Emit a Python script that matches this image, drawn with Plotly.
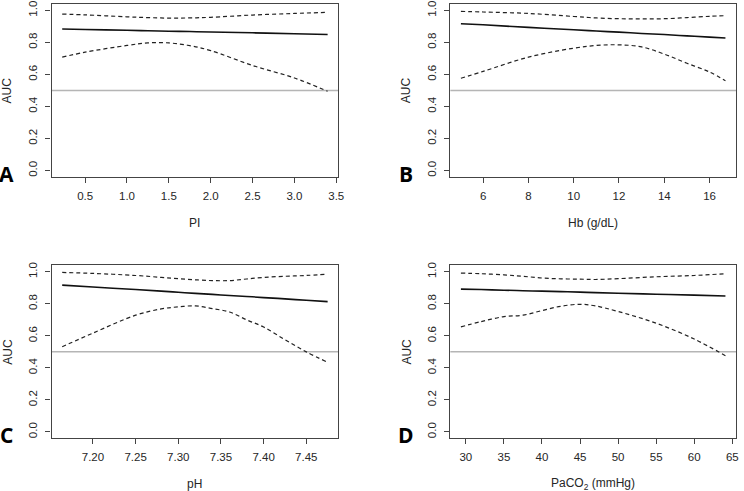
import plotly.graph_objects as go

# ---- data ----
pi_x = [0.226, 0.5, 1.0, 1.25, 1.5, 1.75, 2.0, 2.5, 3.0, 3.397]
pi_auc = [0.884, 0.881, 0.876, 0.873, 0.870, 0.868, 0.865, 0.860, 0.854, 0.849]
pi_upper = [0.977, 0.972, 0.960, 0.955, 0.952, 0.953, 0.957, 0.971, 0.981, 0.988]
pi_lower = [0.708, 0.739, 0.781, 0.797, 0.797, 0.780, 0.749, 0.656, 0.578, 0.495]

hb_x = [5.02, 6, 8, 10, 11, 12, 13, 14, 15, 16, 16.7]
hb_auc = [0.917, 0.910, 0.894, 0.879, 0.871, 0.864, 0.856, 0.849, 0.841, 0.833, 0.828]
hb_upper = [0.994, 0.990, 0.981, 0.962, 0.953, 0.948, 0.947, 0.948, 0.955, 0.963, 0.967]
hb_lower = [0.576, 0.619, 0.708, 0.764, 0.781, 0.785, 0.772, 0.727, 0.670, 0.615, 0.561]

ph_x = [7.164, 7.20, 7.25, 7.28, 7.30, 7.32, 7.34, 7.36, 7.38, 7.40, 7.425, 7.45, 7.475]
ph_auc = [0.917, 0.905, 0.889, 0.879, 0.872, 0.865, 0.859, 0.852, 0.846, 0.839, 0.831, 0.822, 0.814]
ph_upper = [0.996, 0.990, 0.977, 0.965, 0.957, 0.950, 0.945, 0.945, 0.955, 0.965, 0.972, 0.977, 0.986]
ph_lower = [0.532, 0.617, 0.729, 0.768, 0.781, 0.787, 0.770, 0.749, 0.700, 0.655, 0.576, 0.500, 0.435]

pco2_x = [29.35, 32, 35, 37.5, 40, 42.5, 45, 47, 50, 55, 60, 64.1]
pco2_auc = [0.892, 0.889, 0.885, 0.882, 0.879, 0.876, 0.873, 0.870, 0.866, 0.860, 0.854, 0.849]
pco2_upper = [0.992, 0.988, 0.981, 0.972, 0.961, 0.956, 0.954, 0.952, 0.957, 0.969, 0.977, 0.988]
pco2_lower = [0.656, 0.689, 0.720, 0.729, 0.758, 0.785, 0.797, 0.787, 0.752, 0.679, 0.580, 0.476]

pi_ticks = [0.5, 1.0, 1.5, 2.0, 2.5, 3.0, 3.5]
hb_ticks = [6, 8, 10, 12, 14, 16]
ph_ticks = [7.20, 7.25, 7.30, 7.35, 7.40, 7.45]
pco2_ticks = [30, 35, 40, 45, 50, 55, 60, 65]
auc_ticks = [0.0, 0.2, 0.4, 0.6, 0.8, 1.0]
reference_auc = 0.5

panels = [
    dict(x=pi_x, auc=pi_auc, up=pi_upper, lo=pi_lower, ticks=pi_ticks, fmt=".1f",
         title="PI", letter="A", ref=reference_auc),
    dict(x=hb_x, auc=hb_auc, up=hb_upper, lo=hb_lower, ticks=hb_ticks, fmt="d",
         title="Hb (g/dL)", letter="B", ref=reference_auc),
    dict(x=ph_x, auc=ph_auc, up=ph_upper, lo=ph_lower, ticks=ph_ticks, fmt=".2f",
         title="pH", letter="C", ref=reference_auc),
    dict(x=pco2_x, auc=pco2_auc, up=pco2_upper, lo=pco2_lower, ticks=pco2_ticks, fmt="d",
         title="PaCO<sub>2</sub> (mmHg)", letter="D", ref=reference_auc),
]

W, H = 744, 491
# box pixel geometry: (left, right, top, bottom)
boxes = [(52, 341, 1, 175), (454, 742, 1, 175), (52, 341, 264, 438), (454, 742, 264, 438)]

FONT = "Liberation Sans, Arial, sans-serif"
TXT = "#262626"
BOX = "#444444"

fig = go.Figure()
layout = dict(width=W, height=H, margin=dict(l=0, r=0, t=0, b=0),
              paper_bgcolor="white", plot_bgcolor="white", showlegend=False,
              font=dict(family=FONT, size=11, color=TXT))
annotations = []
shapes = []

for i, (p, (l, r, t, b)) in enumerate(zip(panels, boxes)):
    n = i + 1
    xa = "x" if n == 1 else f"x{n}"
    ya = "y" if n == 1 else f"y{n}"
    xmin, xmax = min(p["x"]), max(p["x"])
    ext = 0.04 * (xmax - xmin)
    layout[f"xaxis{'' if n == 1 else n}"] = dict(
        domain=[l / W, r / W], anchor=ya, range=[xmin - ext, xmax + ext],
        tickvals=p["ticks"], tickformat=p["fmt"], showgrid=False, zeroline=False,
        showline=True, mirror=True, linecolor=BOX, linewidth=1.2,
        ticks="outside", ticklen=5, tickwidth=1, tickcolor=BOX,
        ticklabelstandoff=3, tickfont=dict(size=11.5, color=TXT))
    layout[f"yaxis{'' if n == 1 else n}"] = dict(
        domain=[1 - b / H, 1 - t / H], anchor=xa, range=[-0.04, 1.04],
        tickvals=auc_ticks, tickformat=".1f", tickangle=-90, showgrid=False,
        zeroline=False, showline=True, mirror=True, linecolor=BOX, linewidth=1.2,
        ticks="outside", ticklen=5, tickwidth=1, tickcolor=BOX,
        ticklabelstandoff=4, tickfont=dict(size=11.5, color=TXT))

    shapes.append(dict(type="line", xref=f"{xa} domain", yref=ya, x0=0, x1=1,
                       y0=p["ref"], y1=p["ref"], line=dict(color="#b5b5b5", width=1.5),
                       layer="below"))

    fig.add_trace(go.Scatter(x=p["x"], y=p["up"], mode="lines", xaxis=xa, yaxis=ya,
                             line=dict(color="#222", width=1.2, dash="4px,3px", shape="spline")))
    fig.add_trace(go.Scatter(x=p["x"], y=p["lo"], mode="lines", xaxis=xa, yaxis=ya,
                             line=dict(color="#222", width=1.2, dash="4px,3px", shape="spline")))
    fig.add_trace(go.Scatter(x=p["x"], y=p["auc"], mode="lines", xaxis=xa, yaxis=ya,
                             line=dict(color="#111", width=1.6, shape="spline")))

    cx = (l + r) / 2 / W
    # x title
    annotations.append(dict(text=p["title"], xref="paper", yref="paper", x=cx,
                            y=1 - (b + 46) / H, showarrow=False,
                            font=dict(size=12, color=TXT), xanchor="center", yanchor="middle"))
    # y title
    annotations.append(dict(text="AUC", xref="paper", yref="paper", x=(l - 44) / W,
                            y=1 - (t + b) / 2 / H, showarrow=False, textangle=-90,
                            font=dict(size=12, color=TXT), xanchor="center", yanchor="middle"))
    # panel letter
    annotations.append(dict(text=f"<b>{p['letter']}</b>", xref="paper", yref="paper",
                            x=(l - 45) / W, y=1 - (b - 3) / H, showarrow=False,
                            font=dict(size=21, color="#000", family="Open Sans, sans-serif"),
                            xanchor="center", yanchor="middle"))

layout["annotations"] = annotations
layout["shapes"] = shapes
fig.update_layout(**layout)
fig.write_html("out.html", config={"displayModeBar": False},
               post_script="document.body.style.margin='0';document.body.style.overflow='hidden';")
